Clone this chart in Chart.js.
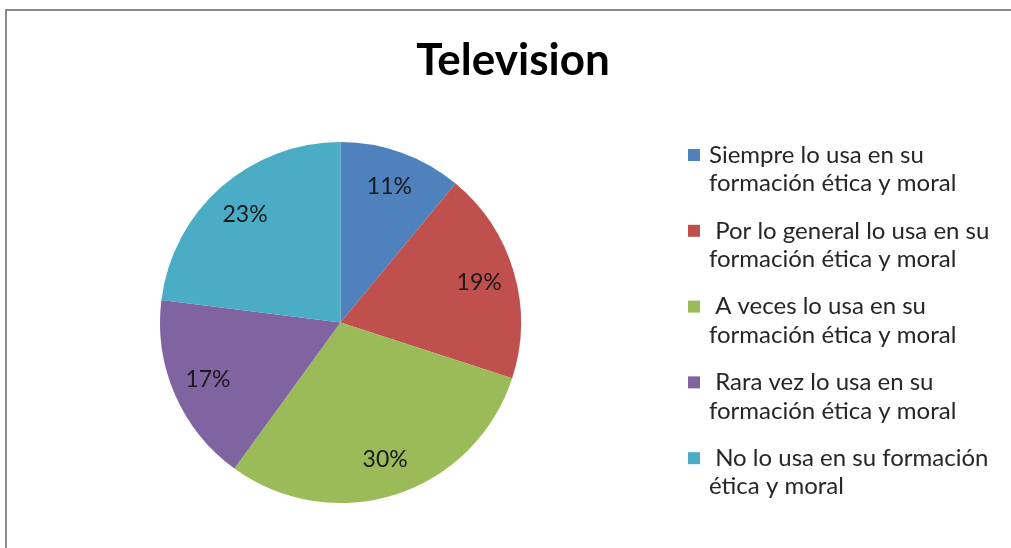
<!DOCTYPE html>
<html>
<head>
<meta charset="utf-8">
<script src="https://cdn.jsdelivr.net/npm/chart.js@4/dist/chart.umd.min.js"></script>
<style>
  html, body { margin: 0; padding: 0; background: #fff; }
  #wrap { width: 1011px; height: 548px; }
</style>
</head>
<body>
<div id="wrap"><canvas id="c" width="1011" height="548"></canvas></div>
<script>
const chartTitle = "Television";
const categories = [
  ["Siempre lo usa en su", "formación ética y moral"],
  [" Por lo general lo usa en su", "formación ética y moral"],
  [" A veces lo usa en su", "formación ética y moral"],
  [" Rara vez lo usa en su", "formación ética y moral"],
  [" No lo usa en su formación", "ética y moral"]
];
const values = [11, 19, 30, 17, 23];
const colors = ["#4F81BD", "#C0504D", "#9BBB59", "#8064A2", "#4BACC6"];

const FONT = "Lato, 'Open Sans', sans-serif";

const framePlugin = {
  id: 'frame',
  beforeDraw(chart) {
    const ctx = chart.ctx;
    ctx.save();
    ctx.fillStyle = '#fff';
    ctx.fillRect(0, 0, chart.width, chart.height);
    ctx.strokeStyle = '#8a8a8a';
    ctx.lineWidth = 2;
    ctx.beginPath();
    ctx.moveTo(6, chart.height);
    ctx.lineTo(6, 10);
    ctx.lineTo(chart.width, 10);
    ctx.stroke();
    // title
    ctx.fillStyle = '#000';
    ctx.font = "bold 44px " + FONT;
    ctx.textAlign = 'center';
    ctx.textBaseline = 'alphabetic';
    ctx.fillText(chartTitle, 513, 75);
    ctx.restore();
  }
};

const labelsPlugin = {
  id: 'sliceLabels',
  afterDatasetsDraw(chart) {
    const ctx = chart.ctx;
    const meta = chart.getDatasetMeta(0);
    const data = chart.data.datasets[0].data;
    const total = data.reduce((a, b) => a + b, 0);
    ctx.save();
    ctx.fillStyle = '#1a1a1a';
    ctx.font = "23px " + FONT;
    ctx.textAlign = 'center';
    ctx.textBaseline = 'middle';
    meta.data.forEach((arc, i) => {
      const p = arc.getProps(['x', 'y', 'startAngle', 'endAngle', 'outerRadius'], true);
      const mid = (p.startAngle + p.endAngle) / 2;
      const r = p.outerRadius * 0.8;
      const txt = Math.round(data[i] / total * 100) + '%';
      ctx.fillText(txt, p.x + Math.cos(mid) * r, p.y + Math.sin(mid) * r);
    });
    ctx.restore();
  }
};

const legendPlugin = {
  id: 'sideLegend',
  afterDraw(chart) {
    const ctx = chart.ctx;
    ctx.save();
    ctx.font = "24px " + FONT;
    ctx.textBaseline = 'middle';
    ctx.textAlign = 'left';
    const x0 = 688, tx = 709, y0 = 155, step = 75.8, lh = 28.5, box = 12;
    categories.forEach((lines, i) => {
      const y = y0 + i * step;
      ctx.fillStyle = colors[i];
      ctx.fillRect(x0, y - box / 2, box, box);
      ctx.fillStyle = '#262626';
      lines.forEach((ln, j) => ctx.fillText(ln, tx, y + j * lh));
    });
    ctx.restore();
  }
};

new Chart(document.getElementById('c'), {
  type: 'pie',
  data: {
    labels: categories.map(l => l.join(' ')),
    datasets: [{
      data: values,
      backgroundColor: colors,
      borderWidth: 0
    }]
  },
  options: {
    responsive: false,
    animation: false,
    layout: { padding: { left: 160, right: 490, top: 142, bottom: 45 } },
    plugins: {
      legend: { display: false },
      title: { display: false },
      tooltip: { enabled: false }
    }
  },
  plugins: [framePlugin, labelsPlugin, legendPlugin]
});
</script>
</body>
</html>
